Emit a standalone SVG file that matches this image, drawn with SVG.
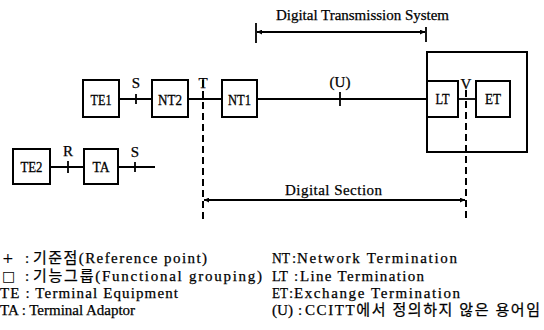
<svg xmlns="http://www.w3.org/2000/svg" width="544" height="330" viewBox="0 0 544 330">
<defs>
<marker id="ah" viewBox="0 0 10 10" refX="10" refY="5" markerWidth="7" markerHeight="5" orient="auto-start-reverse" markerUnits="userSpaceOnUse">
<path d="M0,0 L10,5 L0,10 z" fill="#000"/>
</marker>
<style>
.box{fill:#fff;stroke:#000;stroke-width:2}
.ln{stroke:#000;stroke-width:1.8;fill:none}
.dash{stroke:#000;stroke-width:2;stroke-dasharray:7 4;fill:none}
.lbl{font-family:"Liberation Serif","Noto Sans CJK KR",serif;font-size:15px;fill:#000;stroke:#000;stroke-width:0.25}
.bx{font-family:"Liberation Serif",serif;font-size:15px;fill:#000;text-anchor:middle;stroke:#000;stroke-width:0.3}
.leg{font-family:"Liberation Serif","Noto Sans CJK KR",serif;font-size:15px;fill:#000;stroke:#000;stroke-width:0.25}
.sym{font-family:"DejaVu Sans",sans-serif;font-size:14px;fill:#000}
</style>
</defs>
<rect width="544" height="330" fill="#fff"/>
<g id="connectors">
<line class="ln" x1="119" y1="99" x2="152" y2="99"/>
<line class="ln" x1="188" y1="99" x2="222" y2="99"/>
<line class="ln" x1="257" y1="99" x2="427" y2="99"/>
<line class="ln" x1="458" y1="99" x2="476" y2="99"/>
<line class="ln" x1="50" y1="167" x2="84" y2="167"/>
<line class="ln" x1="118" y1="167" x2="155" y2="167"/>
<line class="ln" x1="136" y1="94" x2="136" y2="104"/>
<line class="ln" x1="340" y1="92" x2="340" y2="106"/>
<line class="ln" x1="68" y1="161" x2="68" y2="173"/>
<line class="ln" x1="135" y1="162" x2="135" y2="172"/>
<line class="ln" x1="199" y1="99" x2="207" y2="99"/>
<line class="dash" x1="203" y1="80" x2="203" y2="220"/>
<line class="dash" x1="466" y1="90" x2="466" y2="222"/>
<line class="ln" x1="256" y1="23" x2="256" y2="43"/>
<line class="ln" x1="426" y1="27" x2="426" y2="42"/>
<line class="ln" x1="257" y1="32" x2="425" y2="32" marker-start="url(#ah)" marker-end="url(#ah)"/>
<line class="ln" x1="204" y1="200" x2="465" y2="200" marker-start="url(#ah)" marker-end="url(#ah)"/>
</g>
<g id="exchange"><rect x="427" y="52" width="100" height="100" style="fill:none;stroke:#000;stroke-width:2"/></g>
<g id="TE1"><rect class="box" x="83" y="80" width="36" height="37"/><text class="bx" x="101" y="105" textLength="21" lengthAdjust="spacingAndGlyphs">TE1</text></g>
<g id="NT2"><rect class="box" x="152" y="80" width="36" height="37"/><text class="bx" x="170" y="105" textLength="24" lengthAdjust="spacingAndGlyphs">NT2</text></g>
<g id="NT1"><rect class="box" x="222" y="80" width="35" height="37"/><text class="bx" x="239.5" y="105" textLength="23" lengthAdjust="spacingAndGlyphs">NT1</text></g>
<g id="LT"><rect class="box" x="427" y="81" width="31" height="36"/><text class="bx" x="442.5" y="104" textLength="14" lengthAdjust="spacingAndGlyphs">LT</text></g>
<g id="ET"><rect class="box" x="476" y="81" width="34" height="36"/><text class="bx" x="493" y="104" textLength="16" lengthAdjust="spacingAndGlyphs">ET</text></g>
<g id="TE2"><rect class="box" x="13" y="149" width="37" height="35"/><text class="bx" x="31.5" y="172" textLength="22" lengthAdjust="spacingAndGlyphs">TE2</text></g>
<g id="TA"><rect class="box" x="84" y="149" width="34" height="35"/><text class="bx" x="101" y="172" textLength="17" lengthAdjust="spacingAndGlyphs">TA</text></g>
<g id="labels">
<text class="lbl" x="136" y="88" text-anchor="middle">S</text>
<text class="lbl" x="203" y="88" text-anchor="middle">T</text>
<text class="lbl" x="340" y="87" text-anchor="middle">(U)</text>
<text class="lbl" x="466" y="89" text-anchor="middle">V</text>
<text class="lbl" x="68" y="156" text-anchor="middle">R</text>
<text class="lbl" x="135" y="157" text-anchor="middle">S</text>
<text class="lbl" x="276" y="20" textLength="173" lengthAdjust="spacing">Digital Transmission System</text>
<text class="lbl" x="285" y="195" textLength="97" lengthAdjust="spacing">Digital Section</text>
</g>
<g id="legend">
<text class="sym" x="2" y="263">+</text>
<text class="leg" y="263"><tspan x="25">:</tspan><tspan x="33" textLength="174" lengthAdjust="spacing">기준점(Reference point)</tspan></text>
<text class="sym" x="2" y="281">□</text>
<text class="leg" y="281"><tspan x="25">:</tspan><tspan x="33" textLength="229" lengthAdjust="spacing">기능그룹(Functional grouping)</tspan></text>
<text class="leg" x="0" y="298" textLength="178" lengthAdjust="spacing">TE : Terminal Equipment</text>
<text class="leg" x="0" y="315" textLength="135" lengthAdjust="spacing">TA : Terminal Adaptor</text>
<text class="leg" y="263"><tspan x="272" textLength="18" lengthAdjust="spacingAndGlyphs">NT</tspan><tspan x="292">:</tspan><tspan x="297" textLength="160" lengthAdjust="spacing">Network Termination</tspan></text>
<text class="leg" y="281"><tspan x="272" textLength="16" lengthAdjust="spacingAndGlyphs">LT</tspan><tspan x="294">:</tspan><tspan x="300" textLength="124" lengthAdjust="spacing">Line Termination</tspan></text>
<text class="leg" y="298"><tspan x="272" textLength="16" lengthAdjust="spacingAndGlyphs">ET</tspan><tspan x="289">:</tspan><tspan x="294" textLength="166" lengthAdjust="spacing">Exchange Termination</tspan></text>
<text class="leg" y="315"><tspan x="272" textLength="21" lengthAdjust="spacingAndGlyphs">(U)</tspan><tspan x="298">:</tspan><tspan x="305" textLength="235" lengthAdjust="spacing">CCITT에서 정의하지 않은 용어임</tspan></text>
</g>
</svg>
